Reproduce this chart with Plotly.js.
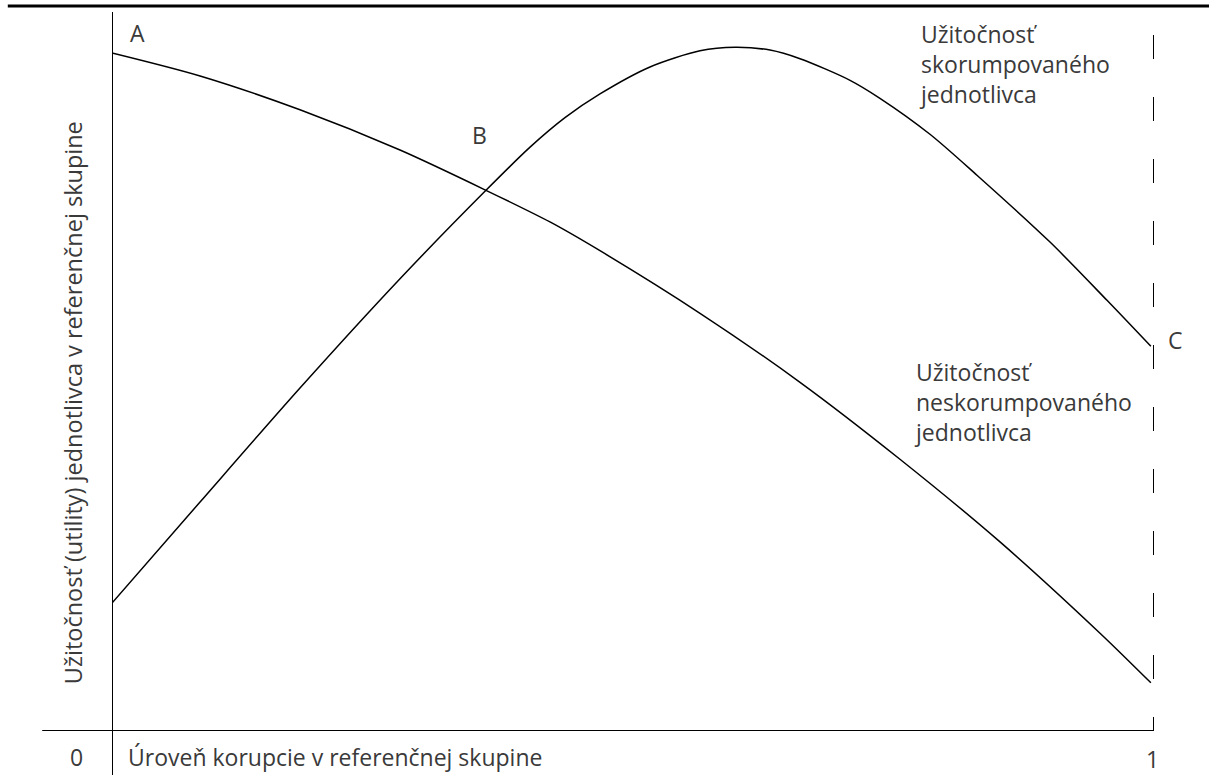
<!DOCTYPE html>
<html>
<head>
<meta charset="utf-8">
<script src="https://cdn.plot.ly/plotly-3.0.1.min.js"></script>
<style>
  html, body { margin: 0; padding: 0; background: #fff; }
  #graf { width: 1209px; height: 775px; }
</style>
</head>
<body>
<div id="graf"></div>
<script>
// uroven korupcie (0..1) a uzitocnost (0..100), odcitane z obrazka
const korupciaNesk = [0, 0.0845, 0.1804, 0.2764, 0.3589, 0.4203, 0.4683, 0.5643, 0.6603, 0.7562, 0.8522, 0.9482, 0.997];
const uzitocnostNesk = [94.3, 91.1, 86.4, 80.8, 75.2, 70.8, 66.8, 58.1, 48.5, 37.8, 26.3, 13.6, 6.7];

const korupciaSk = [0, 0.0845, 0.1804, 0.2764, 0.3589, 0.4012, 0.4347, 0.4683, 0.5163, 0.5643, 0.5979, 0.6315, 0.6603, 0.7083, 0.737, 0.785, 0.8301, 0.9002, 0.9549, 0.997];
const uzitocnostSk = [17.8, 31.85, 47.7, 62.9, 75.2, 81.2, 85.3, 88.6, 92.35, 94.6, 95.1, 94.7, 93.5, 90.5, 88.0, 83.0, 77.3, 68.0, 59.9, 53.5];

const body = ["A", "B", "C"];
const bodyX = [0.024, 0.353, 1.0211];
const bodyY = [0.971, 0.829, 0.5438];

const popisSk = "Užitočnosť<br>skorumpovaného<br>jednotlivca";
const popisNesk = "Užitočnosť<br>neskorumpovaného<br>jednotlivca";
const popisX = "Úroveň korupcie v referenčnej skupine";
const popisY = "Užitočnosť (utility) jednotlivca v referenčnej skupine";
const znacky = ["0", "1"];

const pismo = { family: "Open Sans, sans-serif", size: 23, color: "#3a3a3a" };

const ciara = { color: "#000", width: 1.5, shape: "spline", smoothing: 0.8 };

const stopy = [
  { x: korupciaNesk, y: uzitocnostNesk, mode: "lines", line: ciara, hoverinfo: "skip", cliponaxis: false },
  { x: korupciaSk, y: uzitocnostSk, mode: "lines", line: ciara, hoverinfo: "skip", cliponaxis: false }
];

function popis(x, y, text, extra) {
  return Object.assign({ x: x, y: y, xref: "paper", yref: "paper", text: text, showarrow: false,
    xanchor: "center", yanchor: "middle", font: pismo, borderpad: 0 }, extra || {});
}

const anotacie = body.map((b, i) => popis(bodyX[i], bodyY[i], b));
anotacie.push(
  popis(0.7735, 0.9930, popisSk, { align: "left", xanchor: "left", yanchor: "top" }),
  popis(0.7687, 0.5230, popisNesk, { align: "left", xanchor: "left", yanchor: "top" }),
  popis(0.0144, -0.0362, popisX, { xanchor: "left" }),
  popis(-0.0336, -0.0362, znacky[0]),
  popis(0.9981, -0.0390, znacky[1]),
  popis(-0.0374, 0.4560, popisY, { textangle: -90, font: Object.assign({}, pismo, { size: 23.5 }) })
);

const tvary = [
  // os y
  { type: "line", xref: "x", yref: "paper", x0: 0, x1: 0, y0: -0.062, y1: 1, line: { color: "#000", width: 2 } },
  // os x
  { type: "line", xref: "paper", yref: "y", x0: -0.067, x1: 1, y0: 0, y1: 0, line: { color: "#000", width: 2 } },
  // prerusovana ciara pri x = 1
  { type: "line", xref: "x", yref: "y", x0: 1, x1: 1, y0: 96.8, y1: 0, line: { color: "#000", width: 2, dash: "24px,38px" } },
  // ciara hore
  { type: "line", xref: "paper", yref: "paper", x0: -0.1, x1: 1.06, y0: 1.0083, y1: 1.0083, line: { color: "#000", width: 3 } }
];

Plotly.newPlot("graf", stopy, {
  width: 1209,
  height: 775,
  margin: { l: 112, r: 55, t: 12, b: 44 },
  paper_bgcolor: "#fff",
  plot_bgcolor: "#fff",
  showlegend: false,
  xaxis: { range: [0, 1], showgrid: false, zeroline: false, showline: false, showticklabels: false, ticks: "" },
  yaxis: { range: [0, 100], showgrid: false, zeroline: false, showline: false, showticklabels: false, ticks: "" },
  annotations: anotacie,
  shapes: tvary
}, { staticPlot: true });
</script>
</body>
</html>
